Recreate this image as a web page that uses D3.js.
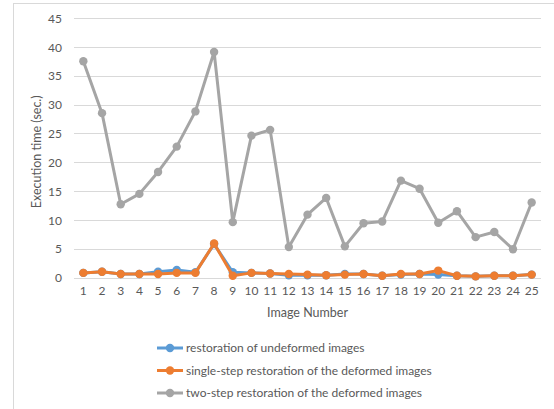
<!DOCTYPE html>
<html>
<head>
<meta charset="utf-8">
<script src="https://cdn.jsdelivr.net/npm/d3@7"></script>
<style>
  html, body { margin: 0; padding: 0; background: #fff; }
  svg text { font-family: Lato, "Open Sans", sans-serif; fill: #595959; }
</style>
</head>
<body>
<svg id="chart" width="554" height="409"></svg>
<script>
// Image numbers along the x axis
const images = d3.range(1, 26);

// Execution times (seconds) per image for each method
const undeformed = [0.8, 1.0, 0.6, 0.6, 1.0, 1.3, 0.9, 5.8, 0.9, 0.8, 0.7, 0.4, 0.4, 0.4, 0.6, 0.6, 0.3, 0.5, 0.6, 0.5, 0.3, 0.2, 0.3, 0.3, 0.5];
const singleStep = [0.8, 1.0, 0.6, 0.6, 0.6, 0.8, 0.8, 5.9, 0.3, 0.8, 0.7, 0.6, 0.5, 0.4, 0.5, 0.6, 0.3, 0.6, 0.6, 1.2, 0.3, 0.2, 0.3, 0.3, 0.5];
const twoStep = [37.5, 28.5, 12.7, 14.5, 18.3, 22.7, 28.8, 39.1, 9.6, 24.6, 25.6, 5.3, 10.9, 13.8, 5.4, 9.4, 9.7, 16.8, 15.4, 9.5, 11.5, 7.0, 7.9, 4.9, 13.0];

const yTicks = [0, 5, 10, 15, 20, 25, 30, 35, 40, 45];

const seriesNames = [
  "restoration of undeformed images",
  "single-step restoration of the deformed images",
  "two-step restoration of the deformed images"
];
const seriesColors = ["#5B9BD5", "#ED7D31", "#A5A5A5"];

const series = [
  { name: seriesNames[0], values: undeformed, color: seriesColors[0] },
  { name: seriesNames[1], values: singleStep, color: seriesColors[1] },
  { name: seriesNames[2], values: twoStep, color: seriesColors[2] }
];

const svg = d3.select("#chart");

// chart frame
svg.append("rect")
  .attr("x", 13.5).attr("y", 3.5)
  .attr("width", 560).attr("height", 420)
  .attr("fill", "none").attr("stroke", "#D9D9D9").attr("stroke-width", 1);

const plot = { left: 74, right: 541, top: 18, bottom: 277.5 };

const x = d3.scaleBand().domain(images).range([plot.left, plot.right]).padding(0);
const y = d3.scaleLinear().domain([0, 45]).range([plot.bottom, plot.top]);
const cx = d => x(d) + x.bandwidth() / 2;

// horizontal gridlines
svg.append("g")
  .selectAll("line")
  .data(yTicks)
  .join("line")
  .attr("x1", plot.left).attr("x2", plot.right)
  .attr("y1", d => Math.round(y(d)) + 0.5).attr("y2", d => Math.round(y(d)) + 0.5)
  .attr("stroke", "#D9D9D9").attr("stroke-width", 1);

// y axis labels
const yAxis = d3.axisLeft(y).tickValues(yTicks).tickSize(0).tickPadding(0);
const gy = svg.append("g").attr("transform", `translate(${plot.left - 12},0)`).call(yAxis);
gy.select(".domain").remove();
gy.selectAll("text").attr("font-size", 12).attr("dy", "0.35em").style("font-family", "Lato, 'Open Sans', sans-serif").attr("fill", "#595959");

// x axis labels
const xAxis = d3.axisBottom(x).tickSize(0).tickPadding(0);
const gx = svg.append("g").attr("transform", `translate(0,${plot.bottom + 9})`).call(xAxis);
gx.select(".domain").remove();
gx.selectAll("text").attr("font-size", 12).attr("dy", "0.71em").style("font-family", "Lato, 'Open Sans', sans-serif").attr("fill", "#595959");

// axis titles
svg.append("text")
  .attr("transform", `translate(41,${(plot.top + plot.bottom) / 2 + 4}) rotate(-90)`)
  .attr("text-anchor", "middle").attr("font-size", 12.5)
  .text("Execution time (sec.)");

svg.append("text")
  .attr("x", (plot.left + plot.right) / 2).attr("y", 317)
  .attr("text-anchor", "middle").attr("font-size", 12.5)
  .text("Image Number");

// series lines and markers (grey drawn first, orange last)
const line = d3.line().x((d, i) => cx(images[i])).y(d => y(d));
const drawOrder = [series[2], series[0], series[1]];

drawOrder.forEach(s => {
  const g = svg.append("g");
  g.append("path")
    .attr("d", line(s.values))
    .attr("fill", "none").attr("stroke", s.color)
    .attr("stroke-width", 3).attr("stroke-linejoin", "round");
  g.selectAll("circle")
    .data(s.values)
    .join("circle")
    .attr("cx", (d, i) => cx(images[i]))
    .attr("cy", d => y(d))
    .attr("r", 4.2)
    .attr("fill", s.color);
});

// legend
const legend = svg.append("g");
series.forEach((s, i) => {
  const ly = 348 + i * 22.5;
  legend.append("line")
    .attr("x1", 157).attr("x2", 183).attr("y1", ly).attr("y2", ly)
    .attr("stroke", s.color).attr("stroke-width", 3);
  legend.append("circle").attr("cx", 170).attr("cy", ly).attr("r", 4.2).attr("fill", s.color);
  legend.append("text")
    .attr("x", 186).attr("y", ly).attr("dy", "0.35em")
    .attr("font-size", 12)
    .text(s.name);
});
</script>
</body>
</html>
